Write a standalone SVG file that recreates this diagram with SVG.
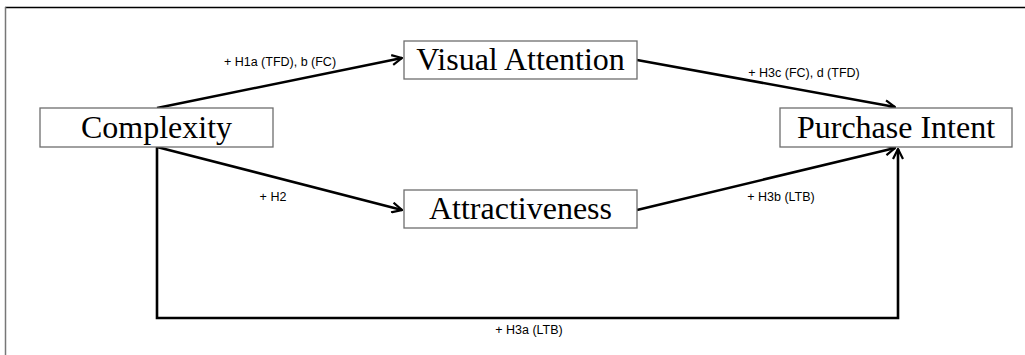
<svg xmlns="http://www.w3.org/2000/svg" width="1025" height="355" viewBox="0 0 1025 355">
<style>
.box{fill:#fff;stroke:#6e6e6e;stroke-width:1.3}
.nt{font-family:"Liberation Serif","Times New Roman",serif;font-size:32px;fill:#000;text-anchor:middle}
.lb{font-family:"Liberation Sans",Arial,sans-serif;font-size:12.5px;fill:#000;text-anchor:middle}
.cn{fill:none;stroke:#000;stroke-width:2.6}
</style>
<defs>
<marker id="ah" viewBox="0 0 12 12" refX="11" refY="6" markerWidth="12" markerHeight="12" markerUnits="userSpaceOnUse" orient="auto">
<path d="M1,1 L11,6 L1,11" fill="none" stroke="#000" stroke-width="2.2"/>
</marker>
</defs>
<rect width="1025" height="355" fill="#fff"/>
<line x1="5" y1="7.5" x2="1025" y2="7.5" stroke="#000" stroke-width="1.5"/>
<line x1="5.5" y1="7" x2="5.5" y2="355" stroke="#777" stroke-width="1.5"/>
<g id="connectors">
<path class="cn" d="M157,108 L402,58" marker-end="url(#ah)"/>
<path class="cn" d="M637,60 L895,107" marker-end="url(#ah)"/>
<path class="cn" d="M157,147 L402,210" marker-end="url(#ah)"/>
<path class="cn" d="M637,210 L895,148" marker-end="url(#ah)"/>
<path class="cn" d="M157,147 L157,318 L898,318 L898,149" marker-end="url(#ah)"/>
<text class="lb" x="280" y="66">+ H1a (TFD), b (FC)</text>
<text class="lb" x="804" y="77">+ H3c (FC), d (TFD)</text>
<text class="lb" x="273" y="201">+ H2</text>
<text class="lb" x="781" y="201">+ H3b (LTB)</text>
<text class="lb" x="529" y="334">+ H3a (LTB)</text>
</g>
<g id="complexity">
<rect class="box" x="40" y="108" width="233" height="39"/>
<text class="nt" x="156.5" y="138">Complexity</text>
</g>
<g id="visual-attention">
<rect class="box" x="404" y="41" width="233" height="38"/>
<text class="nt" x="520.5" y="70">Visual Attention</text>
</g>
<g id="attractiveness">
<rect class="box" x="404" y="190" width="233" height="38"/>
<text class="nt" x="520.5" y="219">Attractiveness</text>
</g>
<g id="purchase-intent">
<rect class="box" x="780" y="108" width="232" height="39"/>
<text class="nt" x="896" y="138">Purchase Intent</text>
</g>
</svg>
